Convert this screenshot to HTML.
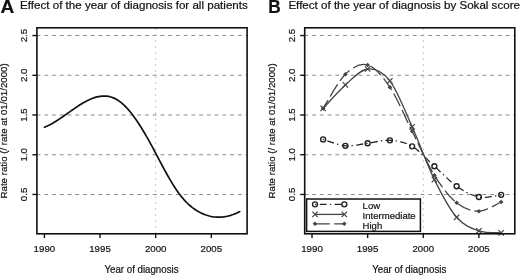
<!DOCTYPE html><html><head><meta charset="utf-8"><style>html,body{margin:0;padding:0;background:#fff;}svg{display:block;filter:grayscale(1);}text{font-family:"Liberation Sans",sans-serif;fill:#111;stroke:#111;stroke-width:0.2px;}</style></head><body>
<svg width="520" height="275" viewBox="0 0 520 275">
<rect width="520" height="275" fill="#fff"/>
<text transform="translate(0.45,12.6) scale(1.07,1)" font-weight="bold" font-size="17.8">A</text>
<text transform="translate(20.1,8.5) scale(1.115,1)" font-size="10.4">Effect of the year of diagnosis for all patients</text>
<text transform="translate(268.2,12.6) scale(0.97,1)" font-weight="bold" font-size="17.8">B</text>
<text transform="translate(288.4,8.5) scale(1.115,1)" font-size="10.4">Effect of the year of diagnosis by Sokal score</text>
<line x1="36.9" y1="194.45" x2="247.1" y2="194.45" stroke="#8c8c8c" stroke-width="1.05" stroke-dasharray="3.85,3.89" stroke-dashoffset="0.3"/>
<line x1="36.9" y1="154.73" x2="247.1" y2="154.73" stroke="#8c8c8c" stroke-width="1.05" stroke-dasharray="3.85,3.89" stroke-dashoffset="0.3"/>
<line x1="36.9" y1="115.00" x2="247.1" y2="115.00" stroke="#8c8c8c" stroke-width="1.05" stroke-dasharray="3.85,3.89" stroke-dashoffset="0.3"/>
<line x1="36.9" y1="75.28" x2="247.1" y2="75.28" stroke="#8c8c8c" stroke-width="1.05" stroke-dasharray="3.85,3.89" stroke-dashoffset="0.3"/>
<line x1="36.9" y1="35.55" x2="247.1" y2="35.55" stroke="#8c8c8c" stroke-width="1.05" stroke-dasharray="3.85,3.89" stroke-dashoffset="0.3"/>
<line x1="155.67" y1="233.8" x2="155.67" y2="27.8" stroke="#a8a8a8" stroke-width="1" stroke-dasharray="1.3,4.7"/>
<line x1="32.4" y1="194.45" x2="36.9" y2="194.45" stroke="#111" stroke-width="1.4"/>
<text transform="translate(27.40,194.45) rotate(-90)" font-size="9.7" text-anchor="middle">0.5</text>
<line x1="32.4" y1="154.73" x2="36.9" y2="154.73" stroke="#111" stroke-width="1.4"/>
<text transform="translate(27.40,154.73) rotate(-90)" font-size="9.7" text-anchor="middle">1.0</text>
<line x1="32.4" y1="115.00" x2="36.9" y2="115.00" stroke="#111" stroke-width="1.4"/>
<text transform="translate(27.40,115.00) rotate(-90)" font-size="9.7" text-anchor="middle">1.5</text>
<line x1="32.4" y1="75.28" x2="36.9" y2="75.28" stroke="#111" stroke-width="1.4"/>
<text transform="translate(27.40,75.28) rotate(-90)" font-size="9.7" text-anchor="middle">2.0</text>
<line x1="32.4" y1="35.55" x2="36.9" y2="35.55" stroke="#111" stroke-width="1.4"/>
<text transform="translate(27.40,35.55) rotate(-90)" font-size="9.7" text-anchor="middle">2.5</text>
<line x1="44.40" y1="233.8" x2="44.40" y2="238.0" stroke="#111" stroke-width="1.4"/>
<text x="44.40" y="252.4" font-size="9.7" text-anchor="middle">1990</text>
<line x1="100.03" y1="233.8" x2="100.03" y2="238.0" stroke="#111" stroke-width="1.4"/>
<text x="100.03" y="252.4" font-size="9.7" text-anchor="middle">1995</text>
<line x1="155.67" y1="233.8" x2="155.67" y2="238.0" stroke="#111" stroke-width="1.4"/>
<text x="155.67" y="252.4" font-size="9.7" text-anchor="middle">2000</text>
<line x1="211.31" y1="233.8" x2="211.31" y2="238.0" stroke="#111" stroke-width="1.4"/>
<text x="211.31" y="252.4" font-size="9.7" text-anchor="middle">2005</text>
<text transform="translate(141.50,272.7) scale(0.951,1)" font-size="10.2" text-anchor="middle">Year of diagnosis</text>
<text transform="translate(6.70,130.9) rotate(-90)" font-size="9.70" text-anchor="middle">Rate ratio (/ rate at 01/01/2000)</text>
<line x1="304.7" y1="194.45" x2="514.8" y2="194.45" stroke="#8c8c8c" stroke-width="1.05" stroke-dasharray="3.85,3.89" stroke-dashoffset="0.3"/>
<line x1="304.7" y1="154.73" x2="514.8" y2="154.73" stroke="#8c8c8c" stroke-width="1.05" stroke-dasharray="3.85,3.89" stroke-dashoffset="0.3"/>
<line x1="304.7" y1="115.00" x2="514.8" y2="115.00" stroke="#8c8c8c" stroke-width="1.05" stroke-dasharray="3.85,3.89" stroke-dashoffset="0.3"/>
<line x1="304.7" y1="75.28" x2="514.8" y2="75.28" stroke="#8c8c8c" stroke-width="1.05" stroke-dasharray="3.85,3.89" stroke-dashoffset="0.3"/>
<line x1="304.7" y1="35.55" x2="514.8" y2="35.55" stroke="#8c8c8c" stroke-width="1.05" stroke-dasharray="3.85,3.89" stroke-dashoffset="0.3"/>
<line x1="423.27" y1="233.8" x2="423.27" y2="27.8" stroke="#a8a8a8" stroke-width="1" stroke-dasharray="1.3,4.7"/>
<line x1="300.2" y1="194.45" x2="304.7" y2="194.45" stroke="#111" stroke-width="1.4"/>
<text transform="translate(295.20,194.45) rotate(-90)" font-size="9.7" text-anchor="middle">0.5</text>
<line x1="300.2" y1="154.73" x2="304.7" y2="154.73" stroke="#111" stroke-width="1.4"/>
<text transform="translate(295.20,154.73) rotate(-90)" font-size="9.7" text-anchor="middle">1.0</text>
<line x1="300.2" y1="115.00" x2="304.7" y2="115.00" stroke="#111" stroke-width="1.4"/>
<text transform="translate(295.20,115.00) rotate(-90)" font-size="9.7" text-anchor="middle">1.5</text>
<line x1="300.2" y1="75.28" x2="304.7" y2="75.28" stroke="#111" stroke-width="1.4"/>
<text transform="translate(295.20,75.28) rotate(-90)" font-size="9.7" text-anchor="middle">2.0</text>
<line x1="300.2" y1="35.55" x2="304.7" y2="35.55" stroke="#111" stroke-width="1.4"/>
<text transform="translate(295.20,35.55) rotate(-90)" font-size="9.7" text-anchor="middle">2.5</text>
<line x1="312.00" y1="233.8" x2="312.00" y2="238.0" stroke="#111" stroke-width="1.4"/>
<text x="312.00" y="252.4" font-size="9.7" text-anchor="middle">1990</text>
<line x1="367.63" y1="233.8" x2="367.63" y2="238.0" stroke="#111" stroke-width="1.4"/>
<text x="367.63" y="252.4" font-size="9.7" text-anchor="middle">1995</text>
<line x1="423.27" y1="233.8" x2="423.27" y2="238.0" stroke="#111" stroke-width="1.4"/>
<text x="423.27" y="252.4" font-size="9.7" text-anchor="middle">2000</text>
<line x1="478.90" y1="233.8" x2="478.90" y2="238.0" stroke="#111" stroke-width="1.4"/>
<text x="478.90" y="252.4" font-size="9.7" text-anchor="middle">2005</text>
<text transform="translate(409.25,272.7) scale(0.951,1)" font-size="10.2" text-anchor="middle">Year of diagnosis</text>
<text transform="translate(274.50,130.9) rotate(-90)" font-size="9.70" text-anchor="middle">Rate ratio (/ rate at 01/01/2000)</text>
<path d="M44.40,127.26 L46.04,126.58 L47.68,125.83 L49.32,125.02 L50.96,124.16 L52.61,123.24 L54.25,122.28 L55.89,121.28 L57.53,120.24 L59.17,119.16 L60.81,118.06 L62.45,116.94 L64.09,115.80 L65.74,114.65 L67.38,113.49 L69.02,112.33 L70.66,111.17 L72.30,110.02 L73.94,108.88 L75.58,107.75 L77.22,106.65 L78.86,105.58 L80.51,104.54 L82.15,103.53 L83.79,102.57 L85.43,101.65 L87.07,100.78 L88.71,99.97 L90.35,99.22 L91.99,98.54 L93.64,97.93 L95.28,97.39 L96.92,96.94 L98.56,96.57 L100.20,96.29 L101.84,96.10 L103.48,96.02 L105.12,96.04 L106.76,96.17 L108.41,96.42 L110.05,96.78 L111.69,97.26 L113.33,97.87 L114.97,98.61 L116.61,99.48 L118.25,100.49 L119.89,101.64 L121.54,102.92 L123.18,104.34 L124.82,105.88 L126.46,107.55 L128.10,109.35 L129.74,111.26 L131.38,113.28 L133.02,115.42 L134.66,117.66 L136.31,120.00 L137.95,122.43 L139.59,124.95 L141.23,127.56 L142.87,130.24 L144.51,132.99 L146.15,135.81 L147.79,138.70 L149.44,141.64 L151.08,144.63 L152.72,147.66 L154.36,150.73 L156.00,153.83 L157.64,156.94 L159.28,160.05 L160.92,163.15 L162.56,166.23 L164.21,169.28 L165.85,172.28 L167.49,175.24 L169.13,178.13 L170.77,180.94 L172.41,183.67 L174.05,186.30 L175.69,188.83 L177.34,191.23 L178.98,193.51 L180.62,195.65 L182.26,197.67 L183.90,199.56 L185.54,201.34 L187.18,203.00 L188.82,204.55 L190.46,205.99 L192.11,207.32 L193.75,208.56 L195.39,209.70 L197.03,210.75 L198.67,211.71 L200.31,212.59 L201.95,213.39 L203.59,214.10 L205.24,214.75 L206.88,215.31 L208.52,215.80 L210.16,216.22 L211.80,216.56 L213.44,216.83 L215.08,217.02 L216.72,217.14 L218.36,217.19 L220.01,217.17 L221.65,217.08 L223.29,216.92 L224.93,216.69 L226.57,216.39 L228.21,216.02 L229.85,215.58 L231.49,215.07 L233.14,214.50 L234.78,213.87 L236.42,213.16 L238.06,212.39 L239.70,211.56" fill="none" stroke="#111" stroke-width="1.7" stroke-linejoin="round" stroke-linecap="round"/>
<path d="M323.13,139.40 C326.84,140.47 337.96,145.17 345.38,145.80 C352.80,146.43 360.22,144.12 367.63,143.20 C375.05,142.28 382.47,139.78 389.89,140.30 C397.31,140.82 404.73,141.98 412.14,146.30 C419.56,150.62 426.98,159.55 434.40,166.20 C441.81,172.85 449.23,181.07 456.65,186.20 C464.07,191.33 471.49,195.57 478.90,197.00 C486.32,198.43 497.45,195.17 501.16,194.80" fill="none" stroke="#222" stroke-width="1.3" stroke-linecap="round" stroke-dasharray="5.9,4.2,0.3,4.4" stroke-dashoffset="9.75"/>
<path d="M323.13,108.40 C326.84,104.48 337.96,91.47 345.38,84.90 C352.80,78.33 360.22,69.68 367.63,69.00 C375.05,68.32 382.47,71.17 389.89,80.80 C397.31,90.43 404.73,110.33 412.14,126.80 C419.56,143.27 426.98,164.52 434.40,179.60 C441.81,194.68 449.23,208.77 456.65,217.30 C464.07,225.83 471.49,228.22 478.90,230.80 C486.32,233.38 497.45,232.47 501.16,232.80" fill="none" stroke="#444" stroke-width="1.3"/>
<path d="M323.13,108.40 C326.84,102.72 337.96,81.53 345.38,74.30 C352.80,67.07 360.22,62.83 367.63,65.00 C375.05,67.17 382.47,76.27 389.89,87.30 C397.31,98.33 404.73,116.53 412.14,131.20 C419.56,145.87 426.98,163.37 434.40,175.30 C441.81,187.23 449.23,196.82 456.65,202.80 C464.07,208.78 471.49,211.33 478.90,211.20 C486.32,211.07 497.45,203.53 501.16,202.00" fill="none" stroke="#444" stroke-width="1.3" stroke-linecap="round" stroke-dasharray="13,5.3" stroke-dashoffset="3.75"/>
<circle cx="323.13" cy="139.40" r="2.5" fill="none" stroke="#222" stroke-width="1.35"/>
<circle cx="345.38" cy="145.80" r="2.5" fill="none" stroke="#222" stroke-width="1.35"/>
<circle cx="367.63" cy="143.20" r="2.5" fill="none" stroke="#222" stroke-width="1.35"/>
<circle cx="389.89" cy="140.30" r="2.5" fill="none" stroke="#222" stroke-width="1.35"/>
<circle cx="412.14" cy="146.30" r="2.5" fill="none" stroke="#222" stroke-width="1.35"/>
<circle cx="434.40" cy="166.20" r="2.5" fill="none" stroke="#222" stroke-width="1.35"/>
<circle cx="456.65" cy="186.20" r="2.5" fill="none" stroke="#222" stroke-width="1.35"/>
<circle cx="478.90" cy="197.00" r="2.5" fill="none" stroke="#222" stroke-width="1.35"/>
<circle cx="501.16" cy="194.80" r="2.5" fill="none" stroke="#222" stroke-width="1.35"/>
<path d="M320.43,105.70L325.83,111.10M320.43,111.10L325.83,105.70" stroke="#444" stroke-width="1.2"/>
<path d="M342.68,82.20L348.08,87.60M342.68,87.60L348.08,82.20" stroke="#444" stroke-width="1.2"/>
<path d="M364.94,66.30L370.33,71.70M364.94,71.70L370.33,66.30" stroke="#444" stroke-width="1.2"/>
<path d="M387.19,78.10L392.59,83.50M387.19,83.50L392.59,78.10" stroke="#444" stroke-width="1.2"/>
<path d="M409.44,124.10L414.84,129.50M409.44,129.50L414.84,124.10" stroke="#444" stroke-width="1.2"/>
<path d="M431.70,176.90L437.10,182.30M431.70,182.30L437.10,176.90" stroke="#444" stroke-width="1.2"/>
<path d="M453.95,214.60L459.35,220.00M453.95,220.00L459.35,214.60" stroke="#444" stroke-width="1.2"/>
<path d="M476.20,228.10L481.60,233.50M476.20,233.50L481.60,228.10" stroke="#444" stroke-width="1.2"/>
<path d="M498.46,230.10L503.86,235.50M498.46,235.50L503.86,230.10" stroke="#444" stroke-width="1.2"/>
<path d="M320.83,108.40L323.13,106.10L325.43,108.40L323.13,110.70Z" fill="#444"/>
<path d="M343.08,74.30L345.38,72.00L347.68,74.30L345.38,76.60Z" fill="#444"/>
<path d="M365.33,65.00L367.63,62.70L369.94,65.00L367.63,67.30Z" fill="#444"/>
<path d="M387.59,87.30L389.89,85.00L392.19,87.30L389.89,89.60Z" fill="#444"/>
<path d="M409.84,131.20L412.14,128.90L414.44,131.20L412.14,133.50Z" fill="#444"/>
<path d="M432.10,175.30L434.40,173.00L436.70,175.30L434.40,177.60Z" fill="#444"/>
<path d="M454.35,202.80L456.65,200.50L458.95,202.80L456.65,205.10Z" fill="#444"/>
<path d="M476.60,211.20L478.90,208.90L481.20,211.20L478.90,213.50Z" fill="#444"/>
<path d="M498.86,202.00L501.16,199.70L503.46,202.00L501.16,204.30Z" fill="#444"/>
<rect x="36.90" y="27.80" width="210.20" height="206.00" fill="none" stroke="#111" stroke-width="1.6"/>
<rect x="304.70" y="27.80" width="210.10" height="206.00" fill="none" stroke="#111" stroke-width="1.6"/>
<rect x="306.6" y="199.0" width="113.8" height="32.4" fill="#fff" stroke="#111" stroke-width="1.5"/>
<line x1="315" y1="204.3" x2="344.3" y2="204.3" stroke="#222" stroke-width="1.3" stroke-linecap="round" stroke-dasharray="5.9,4.2,0.3,4.4" stroke-dashoffset="9.55"/>
<circle cx="315.00" cy="204.30" r="2.5" fill="none" stroke="#222" stroke-width="1.35"/>
<circle cx="344.30" cy="204.30" r="2.5" fill="none" stroke="#222" stroke-width="1.35"/>
<line x1="315" y1="214.4" x2="344.3" y2="214.4" stroke="#444" stroke-width="1.3"/>
<path d="M312.30,211.70L317.70,217.10M312.30,217.10L317.70,211.70" stroke="#444" stroke-width="1.2"/>
<path d="M341.60,211.70L347.00,217.10M341.60,217.10L347.00,211.70" stroke="#444" stroke-width="1.2"/>
<line x1="315" y1="223.8" x2="344.3" y2="223.8" stroke="#444" stroke-width="1.3" stroke-linecap="round" stroke-dasharray="13,5.3" stroke-dashoffset="16.85"/>
<path d="M312.70,223.80L315.00,221.50L317.30,223.80L315.00,226.10Z" fill="#444"/>
<path d="M342.00,223.80L344.30,221.50L346.60,223.80L344.30,226.10Z" fill="#444"/>
<text x="362.6" y="209.3" font-size="9.55">Low</text>
<text x="362.6" y="219.1" font-size="9.55">Intermediate</text>
<text x="362.6" y="228.7" font-size="9.55">High</text>
</svg></body></html>
